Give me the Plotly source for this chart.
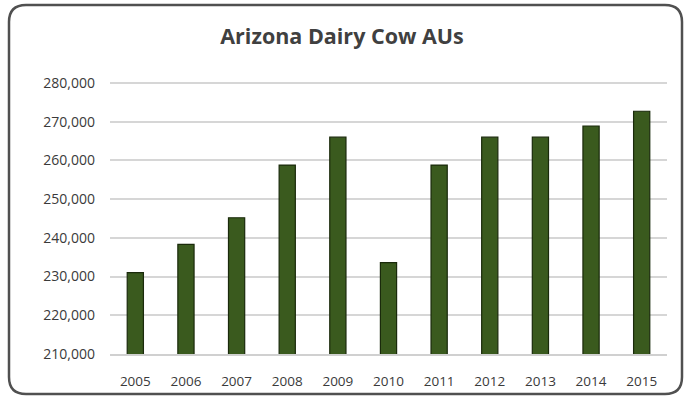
import plotly.graph_objects as go

years = ["2005", "2006", "2007", "2008", "2009", "2010", "2011", "2012", "2013", "2014", "2015"]
aus = [231000, 238300, 245200, 258800, 266000, 233600, 258800, 266000, 266000, 268900, 272700]
tick_vals = [210000, 220000, 230000, 240000, 250000, 260000, 270000, 280000]
tick_text = ["210,000", "220,000", "230,000", "240,000", "250,000", "260,000", "270,000", "280,000"]

W, H = 684, 396
L, R, T, B = 110, 17, 81, 42
pw, ph = W - L - R, H - T - B

def px(x):
    return (x - L) / pw

def py(y):
    return (H - B - y) / ph

# rounded border path in paper coords
x0, x1, y0, y1, r = 9, 682, 5, 394, 17
path = (f"M {px(x0 + r)},{py(y0)} L {px(x1 - r)},{py(y0)} "
        f"Q {px(x1)},{py(y0)} {px(x1)},{py(y0 + r)} L {px(x1)},{py(y1 - r)} "
        f"Q {px(x1)},{py(y1)} {px(x1 - r)},{py(y1)} L {px(x0 + r)},{py(y1)} "
        f"Q {px(x0)},{py(y1)} {px(x0)},{py(y1 - r)} L {px(x0)},{py(y0 + r)} "
        f"Q {px(x0)},{py(y0)} {px(x0 + r)},{py(y0)} Z")

fig = go.Figure(go.Bar(
    x=years, y=aus,
    marker=dict(color="#3a5a1e", line=dict(color="#1a2a0b", width=1.2)),
))

fig.update_layout(
    width=W, height=H,
    margin=dict(l=L, r=R, t=T, b=B, autoexpand=False),
    paper_bgcolor="white", plot_bgcolor="white",
    bargap=0.68,
    showlegend=False,
    font=dict(family="Open Sans, sans-serif", color="#3a3a3a"),
    title=dict(text="<b>Arizona Dairy Cow AUs</b>", x=0.5, xanchor="center", y=1 - 36 / H, yanchor="middle",
               font=dict(size=21.5, color="#404040", family="Open Sans, sans-serif")),
    xaxis=dict(type="category", showgrid=False, showline=True, linecolor="#d0d0d0", linewidth=2,
               ticks="", ticklabelstandoff=14, automargin=False,
               tickfont=dict(size=13.5, color="#3a3a3a", family="Open Sans, sans-serif")),
    yaxis=dict(range=[210000, 280520], tickvals=tick_vals, ticktext=tick_text,
               showgrid=True, gridcolor="#d6d6d6", gridwidth=2, zeroline=False, showline=False,
               ticks="", ticklabelstandoff=14, automargin=False,
               tickfont=dict(size=14, color="#3a3a3a", family="Open Sans, sans-serif")),
    shapes=[dict(type="path", xref="paper", yref="paper", path=path,
                 line=dict(color="#505050", width=2.5), fillcolor="rgba(0,0,0,0)", layer="above")],
)

fig.write_html("out.html")
